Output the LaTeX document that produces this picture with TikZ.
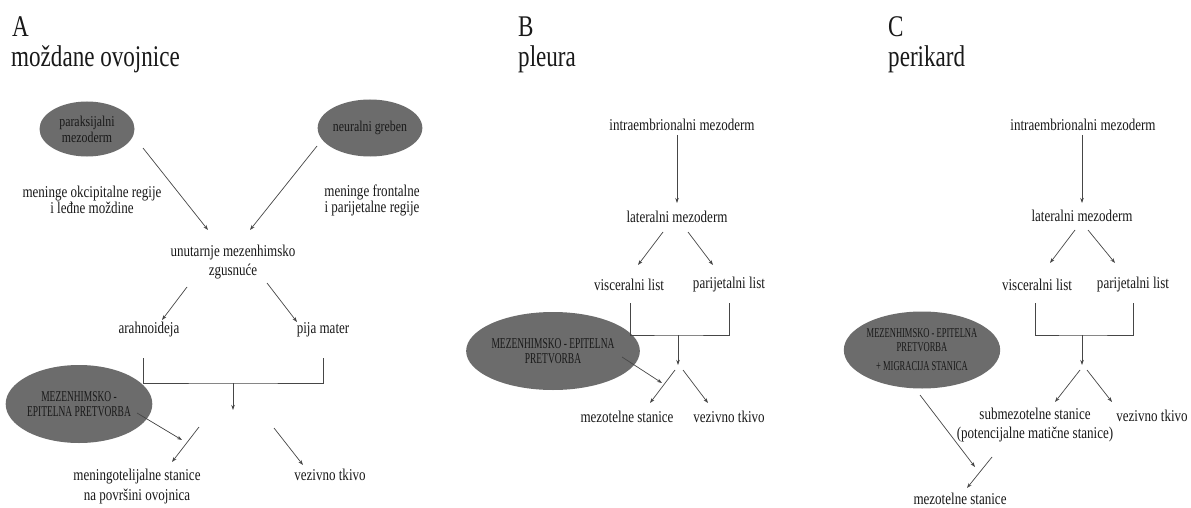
\documentclass[tikz,border=0pt]{standalone}
\usepackage{fontspec}
\setmainfont{Liberation Serif}
\newfontfamily\condf[FakeStretch=0.79]{Liberation Serif}
\newfontfamily\capsf[FakeStretch=0.63]{Liberation Serif}
\newfontfamily\titlef[FakeStretch=0.77]{Liberation Serif}
\usetikzlibrary{arrows.meta,shapes.geometric}
\definecolor{blobgray}{RGB}{108,108,108}
\definecolor{linegray}{RGB}{70,70,70}
\definecolor{txt}{RGB}{25,25,25}
\begin{document}
\begin{tikzpicture}[x=1pt,y=-1pt,
  lbl/.style={font=\condf\fontsize{16.5}{19}\selectfont, text=txt, inner sep=0pt, align=center},
  lbltight/.style={lbl, font=\condf\fontsize{16.5}{16}\selectfont},
  ttl/.style={font=\titlef\fontsize{30}{32}\selectfont, text=txt, anchor=base west, inner sep=0pt},
  blob/.style={ellipse, fill=blobgray, inner sep=0pt, align=center, text=txt},
  arr/.style={draw=linegray, line width=0.7pt, -{Stealth[length=5pt,width=3.5pt]}},
  ln/.style={draw=linegray, line width=0.7pt}]
\useasboundingbox (0,0) rectangle (1191,508);
\fill[white] (0,0) rectangle (1191,508);

% ---------------- Panel A
\node[ttl] (tA) at (12,37) {A};
\node[ttl] (tA2) at (11,67) {moždane ovojnice};
\node[blob, minimum width=95pt, minimum height=55pt, font=\condf\fontsize{15}{16}\selectfont] (par) at (87,129) {paraksijalni\\mezoderm};
\node[blob, minimum width=95pt, minimum height=57pt, font=\condf\fontsize{15}{16}\selectfont] (neu) at (370,128) {neuralni greben};
\node[lbltight] (mok) at (92,200) {meninge okcipitalne regije\\i leđne moždine};
\node[lbltight] (mfr) at (372,200) {meninge frontalne\\i parijetalne regije};
\node[lbl] (unz) at (233,262) {unutarnje mezenhimsko\\zgusnuće};
\node[lbl] (ara) at (149,330) {arahnoideja};
\node[lbl] (pij) at (323,330) {pija mater};
\node[blob, minimum width=116pt, minimum height=78pt, font=\capsf\fontsize{15}{15}\selectfont] (mepA) at (79,404) {MEZENHIMSKO -\\EPITELNA PRETVORBA};
\node[lbl, font=\condf\fontsize{16.5}{20}\selectfont] (mns) at (137,487) {meningotelijalne stanice\\na površini ovojnica};
\node[lbl] (vzA) at (330,475) {vezivno tkivo};

\coordinate (a1s) at (143,148); \coordinate (a1e) at (208,230);
\coordinate (a2s) at (317,146); \coordinate (a2e) at (250,230);
\coordinate (a3s) at (187,287); \coordinate (a3e) at (162,320);
\coordinate (a4s) at (267,283); \coordinate (a4e) at (297,322);
\coordinate (bAl) at (143,358); \coordinate (bAr) at (323,358);
\coordinate (bAm) at (233,383); \coordinate (bAd) at (233,410);
\coordinate (a5s) at (137,413); \coordinate (a5e) at (182,440);
\coordinate (a6s) at (199,427); \coordinate (a6e) at (172,462);
\coordinate (a7s) at (274,428); \coordinate (a7e) at (303,465);
\draw[arr] (a1s) -- (a1e);
\draw[arr] (a2s) -- (a2e);
\draw[arr] (a3s) -- (a3e);
\draw[arr] (a4s) -- (a4e);
\draw[ln] (bAl) |- (bAm) -| (bAr);
\draw[arr] (bAm) -- (bAd);
\draw[arr] (a5s) -- (a5e);
\draw[arr] (a6s) -- (a6e);
\draw[arr] (a7s) -- (a7e);

% ---------------- Panel B
\node[ttl] (tB) at (518,37) {B};
\node[ttl] (tB2) at (518,67) {pleura};
\node[lbl] (imB) at (682,125) {intraembrionalni mezoderm};
\node[lbl] (lmB) at (677,217) {lateralni mezoderm};
\node[lbl] (viB) at (629,285) {visceralni list};
\node[lbl] (paB) at (729,285) {parijetalni list};
\node[blob, minimum width=136pt, minimum height=78pt, font=\capsf\fontsize{15}{15}\selectfont] (mepB) at (553,351) {MEZENHIMSKO - EPITELNA\\PRETVORBA};
\node[lbl] (msB) at (627,417) {mezotelne stanice};
\node[lbl] (vzB) at (729,417) {vezivno tkivo};

\coordinate (b1s) at (677,135); \coordinate (b1e) at (677,203);
\coordinate (b2s) at (663,232); \coordinate (b2e) at (638,265);
\coordinate (b3s) at (688,232); \coordinate (b3e) at (713,265);
\coordinate (bBl) at (630,303); \coordinate (bBr) at (729,303);
\coordinate (bBm) at (678,335); \coordinate (bBd) at (678,365);
\coordinate (b4s) at (622,357); \coordinate (b4e) at (662,383);
\coordinate (b5s) at (675,370); \coordinate (b5e) at (650,403);
\coordinate (b6s) at (683,370); \coordinate (b6e) at (708,403);
\draw[arr] (b1s) -- (b1e);
\draw[arr] (b2s) -- (b2e);
\draw[arr] (b3s) -- (b3e);
\draw[ln] (bBl) |- (bBm) -| (bBr);
\draw[arr] (bBm) -- (bBd);
\draw[arr] (b4s) -- (b4e);
\draw[arr] (b5s) -- (b5e);
\draw[arr] (b6s) -- (b6e);

% ---------------- Panel C
\node[ttl] (tC) at (888,37) {C};
\node[ttl] (tC2) at (888,67) {perikard};
\node[lbl] (imC) at (1083,125) {intraembrionalni mezoderm};
\node[lbl] (lmC) at (1082,216) {lateralni mezoderm};
\node[lbl] (viC) at (1037,285) {visceralni list};
\node[lbl] (paC) at (1133,285) {parijetalni list};
\node[blob, minimum width=135pt, minimum height=77pt, font=\capsf\fontsize{13.5}{14}\selectfont] (mepC) at (922,350) {MEZENHIMSKO - EPITELNA\\PRETVORBA\\[5pt]+ MIGRACIJA STANICA};
\node[lbl] (smC) at (1035,425) {submezotelne stanice\\(potencijalne matične stanice)};
\node[lbl] (vzC) at (1152,416) {vezivno tkivo};
\node[lbl] (msC) at (960,499) {mezotelne stanice};

\coordinate (c1s) at (1082,135); \coordinate (c1e) at (1082,203);
\coordinate (c2s) at (1075,230); \coordinate (c2e) at (1050,263);
\coordinate (c3s) at (1088,230); \coordinate (c3e) at (1115,263);
\coordinate (bCl) at (1035,303); \coordinate (bCr) at (1133,303);
\coordinate (bCm) at (1082,335); \coordinate (bCd) at (1082,365);
\coordinate (c4s) at (1080,370); \coordinate (c4e) at (1055,402);
\coordinate (c5s) at (1087,370); \coordinate (c5e) at (1112,402);
\coordinate (c6s) at (920,395); \coordinate (c6e) at (975,467);
\coordinate (c7s) at (992,457); \coordinate (c7e) at (967,488);
\draw[arr] (c1s) -- (c1e);
\draw[arr] (c2s) -- (c2e);
\draw[arr] (c3s) -- (c3e);
\draw[ln] (bCl) |- (bCm) -| (bCr);
\draw[arr] (bCm) -- (bCd);
\draw[arr] (c4s) -- (c4e);
\draw[arr] (c5s) -- (c5e);
\draw[arr] (c6s) -- (c6e);
\draw[arr] (c7s) -- (c7e);
\end{tikzpicture}
\end{document}
